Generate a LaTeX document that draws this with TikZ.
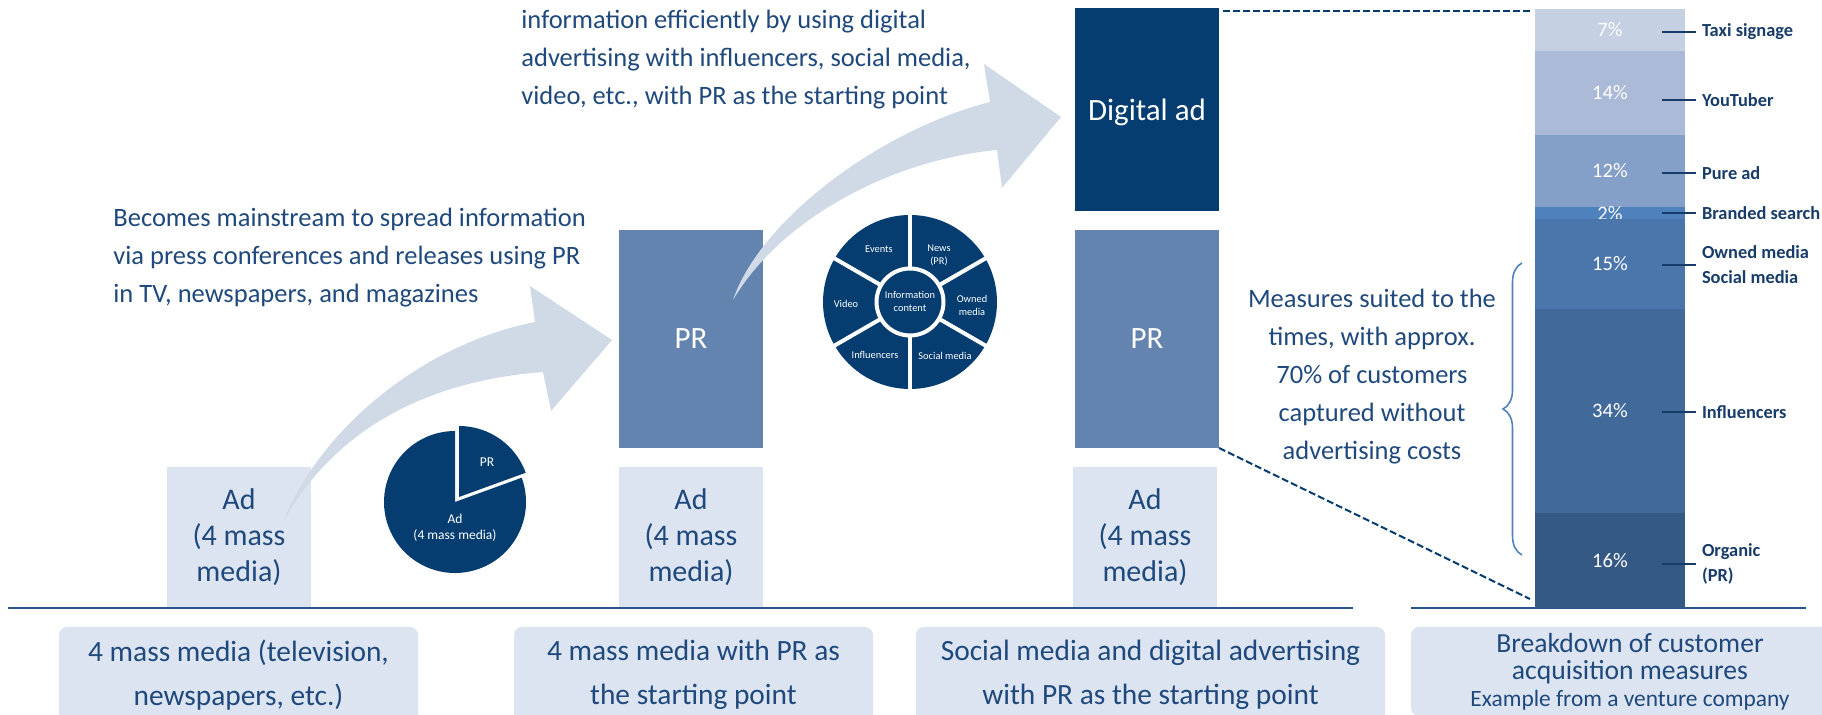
\documentclass[tikz,border=0pt]{standalone}
\usepackage{fontspec}
\setmainfont{Carlito}
\usetikzlibrary{fit,decorations.pathreplacing}
\definecolor{navy}{RGB}{5,61,112}
\definecolor{prblue}{RGB}{99,132,174}
\definecolor{lightbox}{RGB}{219,228,240}
\definecolor{arrowblue}{RGB}{208,218,231}
\definecolor{txtblue}{RGB}{31,73,125}
\definecolor{lblblue}{RGB}{24,60,106}
\definecolor{rulecol}{RGB}{40,85,140}
\definecolor{bracecol}{RGB}{79,129,189}
\definecolor{segA}{RGB}{197,208,226}
\definecolor{segB}{RGB}{171,186,214}
\definecolor{segC}{RGB}{132,160,201}
\definecolor{segD}{RGB}{79,129,189}
\definecolor{segE}{RGB}{74,118,172}
\definecolor{segF}{RGB}{65,106,155}
\definecolor{segG}{RGB}{53,89,133}
\begin{document}
\begin{tikzpicture}[x=0.5pt,y=-0.5pt,
  rect/.style={inner sep=0pt, outer sep=0pt},
  colbox/.style={rect, minimum width=72pt},
  adbox/.style={colbox, minimum height=70pt, fill=lightbox, text=txtblue, align=center, font=\fontsize{15}{18}\selectfont},
  prbox/.style={colbox, minimum height=109pt, fill=prblue, text=white, font=\fontsize{15.5}{18}\selectfont},
  digbox/.style={colbox, minimum height=101.5pt, fill=navy, text=white, text height=14pt, text depth=3pt, font=\fontsize{15.5}{18}\selectfont},
  stagebox/.style={rect, fill=lightbox, rounded corners=4pt},
  stagetext/.style={text=txtblue, align=center, inner sep=0pt, font=\fontsize{14.7}{22}\selectfont},
  bodytext/.style={text=txtblue, align=left, inner sep=0pt, anchor=west, font=\fontsize{13.25}{19}\selectfont},
  midtext/.style={text=txtblue, align=center, inner sep=0pt, font=\fontsize{13.25}{19}\selectfont},
  seg/.style={rect},
  pct/.style={text=white, inner sep=0pt, font=\fontsize{10.3}{12}\selectfont},
  seglbl/.style={text=lblblue, anchor=west, align=left, inner xsep=3pt, inner ysep=0pt, outer sep=0pt, font=\bfseries\fontsize{9.2}{12.5}\selectfont},
  tickline/.style={draw=lblblue, line width=1pt},
  bigarrow/.style={fill=arrowblue},
  dashconn/.style={draw=navy, line width=1pt, dash pattern=on 3.5pt off 1.5pt},
  rule/.style={draw=rulecol, line width=1.3pt},
  pielbl/.style={text=white, align=center, inner sep=0pt, font=\fontsize{6.75}{8}\selectfont},
  donutlbl/.style={text=white, align=center, inner sep=0pt, font=\fontsize{5.2}{6.5}\selectfont}
]
\useasboundingbox (0,0) rectangle (1822,715);

% base rules
\coordinate (r1l) at (8,608);
\coordinate (r1r) at (1353,608);
\coordinate (r2l) at (1411,608);
\coordinate (r2r) at (1806,608);
\draw[rule] (r1l) -- (r1r);
\draw[rule] (r2l) -- (r2r);

% stage boxes
\begin{scope}
\clip (0,0) rectangle (1822,715);
\node[stagebox, fit={(59,627) (418,723)}] (st1) {};
\node[stagebox, fit={(514,627) (873,723)}] (st2) {};
\node[stagebox, fit={(916,627) (1385,723)}] (st3) {};
\node[stagebox, fit={(1411,627) (1850,716)}] (st4) {};
\end{scope}
\node[stagetext] (st1t) at (238.5,675) {4 mass media (television,\\newspapers, etc.)};
\node[stagetext] (st2t) at (693.5,675) {4 mass media with PR as\\the starting point};
\node[stagetext] (st3t) at (1150.5,675) {Social media and digital advertising\\with PR as the starting point};
\node[stagetext, font=\fontsize{13.8}{13.5}\selectfont] (st4t) at (1630,672) {Breakdown of customer\\acquisition measures\\{\fontsize{11.7}{13.5}\selectfont Example from a venture company}};

% columns
\node[adbox] (ad1) at (239,537) {Ad\\(4 mass\\media)};
\node[adbox] (ad2) at (691,537) {Ad\\(4 mass\\media)};
\node[adbox] (ad3) at (1145,537) {Ad\\(4 mass\\media)};
\node[prbox] (pr2) at (691,339) {PR};
\node[prbox] (pr3) at (1147,339) {PR};
\node[digbox] (dig) at (1147,109.5) {Digital ad};

% big arrows
\fill[bigarrow] (283,522) .. controls (320,430) and (420,345) .. (535,322) -- (530,286) -- (612,340) -- (551,411) -- (543,372) .. controls (440,380) and (340,420) .. (283,522) -- cycle;
\fill[bigarrow] (733,300) .. controls (760,220) and (880,130) .. (990,102) -- (984,64) -- (1061,117) -- (1002,188) -- (997,150) .. controls (890,160) and (780,220) .. (733,300) -- cycle;

% texts
\node[bodytext] (txt1) at (113,258) {Becomes mainstream to spread information\\via press conferences and releases using PR\\in TV, newspapers, and magazines};
\node[bodytext] (txt2) at (521,60) {information efficiently by using digital\\advertising with influencers, social media,\\video, etc., with PR as the starting point};
\node[midtext] (txt3) at (1372,377) {Measures suited to the\\times, with approx.\\70\% of customers\\captured without\\advertising costs};

% pie chart
\coordinate (piec) at (455,502);
\begin{scope}[shift={(piec)}, x=0.5pt, y=0.5pt]
\fill[navy] (0,0) -- (20:71) arc[start angle=20, end angle=-270, radius=71] -- cycle;
\fill[navy] (4,5) -- ++(20:71) arc[start angle=20, end angle=90, radius=71] -- cycle;
\end{scope}
\node[pielbl] (piepr) at (487,462) {PR};
\node[pielbl] (piead) at (455,528) {Ad\\(4 mass media)};

% donut chart
\coordinate (donutc) at (910,302);
\begin{scope}[shift={(donutc)}, x=0.5pt, y=0.5pt]
\fill[navy] (0,0) circle[radius=87];
\draw[white, line width=2pt] (0,0) circle[radius=33.5];
\foreach \a in {30,90,...,330} \draw[white, line width=2pt] (\a:34) -- (\a:89);
\end{scope}
\node[donutlbl] (dev) at (879,249) {Events};
\node[donutlbl] (dnews) at (939,255) {News\\(PR)};
\node[donutlbl] (downed) at (972,305) {Owned\\media};
\node[donutlbl] (dsocial) at (945,356) {Social media};
\node[donutlbl] (dinfl) at (875,355) {Influencers};
\node[donutlbl] (dvideo) at (846,304) {Video};
\node[donutlbl] (dinfo) at (910,301) {Information\\content};

% stacked bar
\node[seg, fill=segA, fit={(1535,9) (1685,51)}, label={[pct]center:7\%}] (s1) {};
\node[seg, fill=segB, fit={(1535,51) (1685,135)}, label={[pct]center:14\%}] (s2) {};
\node[seg, fill=segC, fit={(1535,135) (1685,207)}, label={[pct]center:12\%}] (s3) {};
\node[seg, fill=segD, fit={(1535,207) (1685,219)}] (s4) {};
\node[pct] (s4l) at (1610,214) {2\%};
\node[seg, fill=segE, fit={(1535,219) (1685,309)}, label={[pct]center:15\%}] (s5) {};
\node[seg, fill=segF, fit={(1535,309) (1685,513)}, label={[pct]center:34\%}] (s6) {};
\node[seg, fill=segG, fit={(1535,513) (1685,608)}, label={[pct]center:16\%}] (s7) {};

% segment labels
\node[seglbl] (l1) at (1696,32) {Taxi signage};
\node[seglbl] (l2) at (1696,100) {YouTuber};
\node[seglbl] (l3) at (1696,173) {Pure ad};
\node[seglbl] (l4) at (1696,213) {Branded search};
\node[seglbl] (l5) at (1696,265) {Owned media\\Social media};
\node[seglbl] (l6) at (1696,412) {Influencers};
\node[seglbl] (l7) at (1696,564) {Organic\\(PR)};
\coordinate (t1) at (1662,32);
\coordinate (t2) at (1662,100);
\coordinate (t3) at (1662,173);
\coordinate (t4) at (1662,213);
\coordinate (t5) at (1662,265);
\coordinate (t6) at (1662,412);
\coordinate (t7) at (1662,564);
\foreach \i in {1,...,7} \draw[tickline] (t\i) -- (l\i.west);

% brace
\coordinate (brb) at (1522,555);
\coordinate (brt) at (1522,263);
\draw[bracecol, line width=0.8pt, decorate, decoration={brace, amplitude=9.5pt}] (brb) -- (brt);

% dashed connectors
\coordinate (bartl) at (1530,11);
\coordinate (barbl) at (1530,599);
\draw[dashconn] ([xshift=2pt,yshift=-1.5pt]dig.north east) -- (bartl);
\draw[dashconn] (pr3.south east) -- (barbl);
\end{tikzpicture}
\end{document}
